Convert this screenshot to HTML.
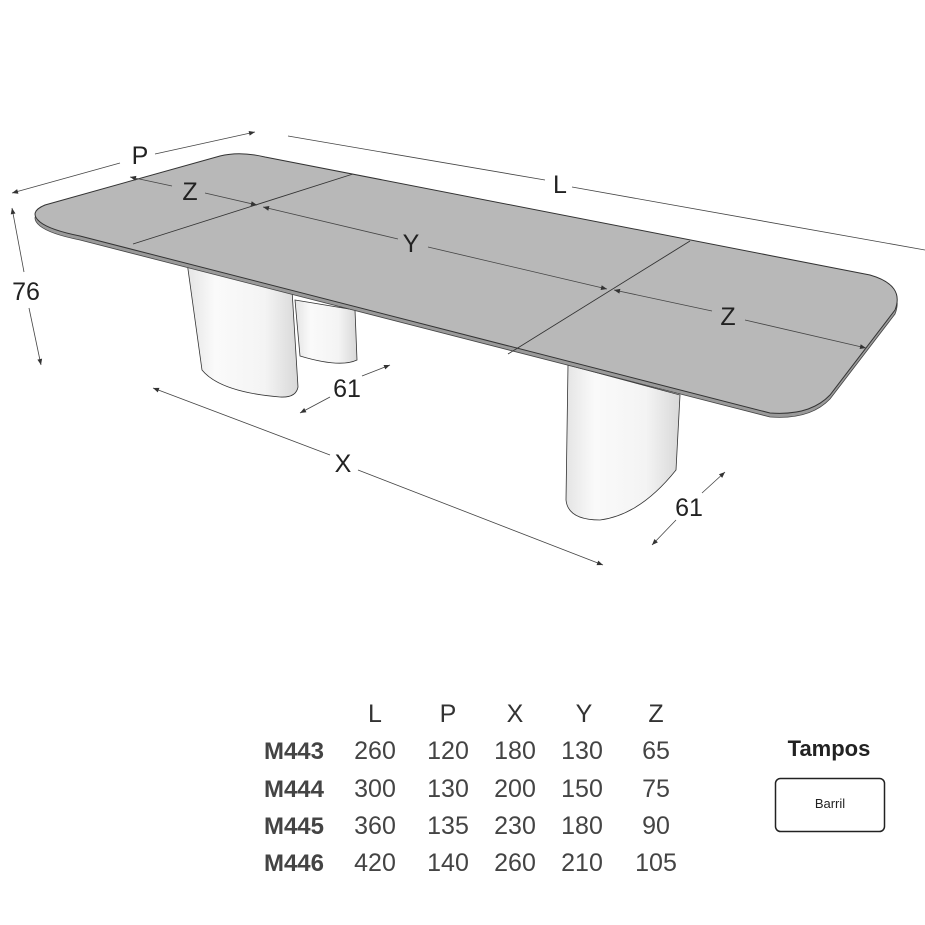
<!DOCTYPE html>
<html><head><meta charset="utf-8"><style>
html,body{margin:0;padding:0;background:#fff;}
svg{display:block;}
text{font-family:"Liberation Sans","DejaVu Sans",sans-serif;}
</style></head><body>
<svg width="925" height="925" viewBox="0 0 925 925" xmlns="http://www.w3.org/2000/svg">
<defs>
<marker id="a" viewBox="0 0 10 10" refX="10" refY="5" markerWidth="9" markerHeight="6" orient="auto-start-reverse" markerUnits="userSpaceOnUse"><path d="M0,1 L10,5 L0,9 Z" fill="#333"/></marker>
<linearGradient id="lg" x1="0" x2="1" y1="0" y2="0">
<stop offset="0" stop-color="#e4e4e4"/><stop offset="0.25" stop-color="#fafafa"/><stop offset="0.7" stop-color="#f4f4f4"/><stop offset="1" stop-color="#d8d8d8"/></linearGradient>
</defs>
<g stroke="#333" stroke-width="0.8" fill="url(#lg)">
<path d="M295,300 L355,310 L357,360 Q340,368 300,356 Z"/>
<path d="M187,262 L292,290 L298,387 Q296,398 280,397 Q220,392 202,370 Z"/>
<path d="M568,365 L680,395 L676,470 Q640,515 600,520 Q568,520 566,500 Z"/>
</g>
<path d="M40,226 Q28,216 45,209 L220,160 Q240,155 265,161 L870,279 Q905,289 895,314 L830,399 Q810,420 770,417 L80,240 Q50,234 40,226 Z" fill="#9a9a9a" stroke="#444" stroke-width="0.8"/>
<path d="M40,222 Q28,212 45,205 L220,156 Q240,151 265,157 L870,275 Q905,285 895,310 L830,395 Q810,416 770,413 L80,236 Q50,230 40,222 Z" fill="#b8b8b8" stroke="#333" stroke-width="1"/>
<g stroke="#333" stroke-width="0.9">
<line x1="133" y1="244" x2="353" y2="174"/>
<line x1="508" y1="354" x2="690" y2="241"/>
</g>
<g stroke="#444" stroke-width="0.8" fill="none">
<line x1="130" y1="177" x2="172" y2="186" marker-start="url(#a)"/>
<line x1="205" y1="193" x2="257" y2="205" marker-end="url(#a)"/>
<line x1="263" y1="207" x2="398" y2="239" marker-start="url(#a)"/>
<line x1="428" y1="247" x2="607" y2="289" marker-end="url(#a)"/>
<line x1="614" y1="290" x2="712" y2="311" marker-start="url(#a)"/>
<line x1="745" y1="320" x2="866" y2="348" marker-end="url(#a)"/>
<line x1="12" y1="193" x2="120" y2="163" marker-start="url(#a)"/>
<line x1="155" y1="154" x2="255" y2="132" marker-end="url(#a)"/>
<line x1="288" y1="136" x2="545" y2="180"/>
<line x1="572" y1="187" x2="925" y2="250"/>
<line x1="12" y1="208" x2="24" y2="272" marker-start="url(#a)"/>
<line x1="29" y1="308" x2="41" y2="365" marker-end="url(#a)"/>
<line x1="300" y1="413" x2="330" y2="397" marker-start="url(#a)"/>
<line x1="362" y1="376" x2="390" y2="365" marker-end="url(#a)"/>
<line x1="153" y1="388" x2="330" y2="455" marker-start="url(#a)"/>
<line x1="358" y1="470" x2="603" y2="565" marker-end="url(#a)"/>
<line x1="652" y1="545" x2="676" y2="520" marker-start="url(#a)"/>
<line x1="702" y1="493" x2="725" y2="472" marker-end="url(#a)"/>
</g>
<g font-size="25" fill="#222" text-anchor="middle">
<text x="190" y="200">Z</text>
<text x="411" y="252">Y</text>
<text x="728" y="325">Z</text>
<text x="140" y="164">P</text>
<text x="560" y="193">L</text>
<text x="26" y="300">76</text>
<text x="347" y="397">61</text>
<text x="343" y="472">X</text>
<text x="689" y="516">61</text>
</g>
<g font-size="25" fill="#444" text-anchor="middle">
<g fill="#333"><text x="375" y="722">L</text><text x="448" y="722">P</text><text x="515" y="722">X</text><text x="584" y="722">Y</text><text x="656" y="722">Z</text></g>
<g font-weight="bold" fill="#444" font-size="24"><text x="294" y="759">M443</text><text x="294" y="797">M444</text><text x="294" y="834">M445</text><text x="294" y="871">M446</text></g>
<text x="375" y="759">260</text><text x="448" y="759">120</text><text x="515" y="759">180</text><text x="582" y="759">130</text><text x="656" y="759">65</text>
<text x="375" y="797">300</text><text x="448" y="797">130</text><text x="515" y="797">200</text><text x="582" y="797">150</text><text x="656" y="797">75</text>
<text x="375" y="834">360</text><text x="448" y="834">135</text><text x="515" y="834">230</text><text x="582" y="834">180</text><text x="656" y="834">90</text>
<text x="375" y="871">420</text><text x="448" y="871">140</text><text x="515" y="871">260</text><text x="582" y="871">210</text><text x="656" y="871">105</text>
</g>
<text x="829" y="756" font-size="22" font-weight="bold" fill="#222" text-anchor="middle">Tampos</text>
<rect x="775.5" y="778.5" width="109" height="53" rx="5" fill="#fff" stroke="#222" stroke-width="1.5"/>
<text x="830" y="808" font-size="13" fill="#222" text-anchor="middle">Barril</text>
</svg>
</body></html>
